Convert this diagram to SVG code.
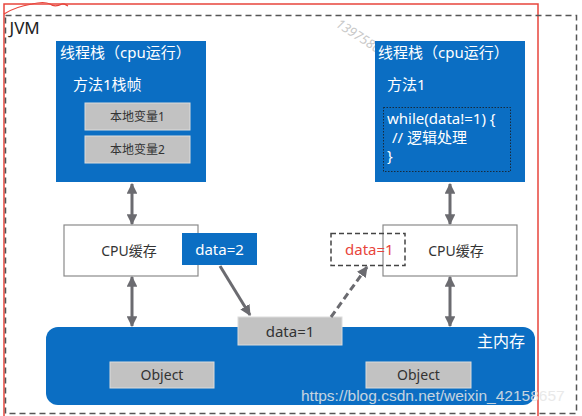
<svg xmlns="http://www.w3.org/2000/svg" width="582" height="416" viewBox="0 0 582 416">
<defs>
<style>
.t{font-family:"Noto Sans","Noto Sans CJK SC",sans-serif}
.blue{fill:#0b6ec3}
.gbox{fill:#c2c2c2;stroke:#dcdcdc;stroke-width:1}
.wbox{fill:#ffffff;stroke:#8a8a8a;stroke-width:1.2}
.arr{stroke:#6b6b70;stroke-width:3;fill:none}
.wt{fill:#ffffff}
.dk{fill:#333333}
</style>
<marker id="ah" viewBox="0 0 10 10" refX="9" refY="5" markerWidth="3.6" markerHeight="3.6" orient="auto-start-reverse" markerUnits="strokeWidth">
<path d="M0,0 L10,5 L0,10 Z" fill="#6b6b70"/>
</marker>
</defs>
<rect width="582" height="416" fill="#ffffff"/>
<g id="annotations">
<path d="M4,416 L4,4 L538,4 L538,416" fill="none" stroke="#e8453c" stroke-width="1.5"/>
<path d="M4,14 C10,10 20,6 32,4 C40,2 46,2 50,4 C54,7 58,6 62,4 C64,3 66,5 68,6" fill="none" stroke="#e8453c" stroke-width="1.2"/>
<text class="t" x="335" y="26" font-size="13" fill="#c8c8c8" font-style="italic" transform="rotate(33 335 26)">13975800061</text>
</g>
<g id="jvm">
<rect x="5.5" y="15.5" width="571" height="398" fill="none" stroke="#555555" stroke-width="1.5" stroke-dasharray="6 4"/>
<text class="t" x="9.5" y="34" font-size="17" fill="#222">JVM</text>
</g>
<g id="stack-left">
<rect class="blue" x="56" y="41" width="150" height="141"/>
<text class="t wt" x="60" y="58" font-size="15">线程栈（cpu运行）</text>
<text class="t wt" x="73" y="90" font-size="15">方法1栈帧</text>
<g id="local1"><rect class="gbox" x="85" y="103" width="105" height="27"/><text class="t dk" x="137.5" y="121" font-size="12" text-anchor="middle">本地变量1</text></g>
<g id="local2"><rect class="gbox" x="85" y="136" width="105" height="27"/><text class="t dk" x="137.5" y="154" font-size="12" text-anchor="middle">本地变量2</text></g>
</g>
<g id="stack-right">
<rect class="blue" x="375" y="41" width="150" height="141"/>
<text class="t wt" x="378" y="58" font-size="15">线程栈（cpu运行）</text>
<text class="t wt" x="387" y="90" font-size="15">方法1</text>
<rect x="383.5" y="107.5" width="127" height="64" fill="none" stroke="#1a1a1a" stroke-width="0.8" stroke-dasharray="1.5 1.5"/>
<text class="t wt" x="387" y="124" font-size="15">while(data!=1) {</text>
<text class="t wt" x="392" y="143" font-size="15">// 逻辑处理</text>
<text class="t wt" x="387" y="161" font-size="15">}</text>
</g>
<g id="cache-left">
<rect class="wbox" x="64" y="225" width="134" height="51"/>
<text class="t dk" x="129" y="256" font-size="14" text-anchor="middle">CPU缓存</text>
</g>
<g id="data2">
<rect class="blue" x="182" y="233" width="75" height="32"/>
<text class="t wt" x="219.5" y="255" font-size="15" text-anchor="middle">data=2</text>
</g>
<g id="cache-right">
<rect class="wbox" x="383" y="225" width="134" height="51"/>
<text class="t dk" x="456" y="256" font-size="14" text-anchor="middle">CPU缓存</text>
</g>
<g id="data1-copy">
<rect x="331" y="233.5" width="74" height="32" fill="none" stroke="#444444" stroke-width="1.5" stroke-dasharray="5 3"/>
<text class="t" x="345" y="255" font-size="15" fill="#e8453c">data=1</text>
</g>
<g id="main-memory">
<rect class="blue" x="46" y="327" width="489" height="78" rx="12"/>
<text class="t wt" x="525" y="347" font-size="16" text-anchor="end">主内存</text>
<g id="obj1"><rect class="gbox" x="110" y="362" width="104" height="26"/><text class="t dk" x="162" y="380" font-size="14" text-anchor="middle">Object</text></g>
<g id="obj2"><rect class="gbox" x="366" y="362" width="105" height="26"/><text class="t dk" x="418.5" y="380" font-size="14" text-anchor="middle">Object</text></g>
</g>
<g id="data1-main">
<rect class="gbox" x="238" y="317" width="104" height="28"/>
<text class="t dk" x="290" y="337" font-size="15" text-anchor="middle">data=1</text>
</g>
<g id="connectors">
<line class="arr" x1="132" y1="184" x2="132" y2="224" marker-start="url(#ah)" marker-end="url(#ah)"/>
<line class="arr" x1="132" y1="277" x2="132" y2="326" marker-start="url(#ah)" marker-end="url(#ah)"/>
<line class="arr" x1="450" y1="184" x2="450" y2="224" marker-start="url(#ah)" marker-end="url(#ah)"/>
<line class="arr" x1="450" y1="277" x2="450" y2="326" marker-start="url(#ah)" marker-end="url(#ah)"/>
<line class="arr" x1="220" y1="266" x2="250" y2="315" marker-end="url(#ah)"/>
<line class="arr" x1="331" y1="317" x2="367" y2="267" stroke-dasharray="7 4" marker-end="url(#ah)"/>
</g>
<text x="301" y="401" font-family="Liberation Sans, Arial, sans-serif" font-size="15.5" fill="#e6e6e6" opacity="0.85">https://blog.csdn.net/weixin_42158657</text>
</svg>
